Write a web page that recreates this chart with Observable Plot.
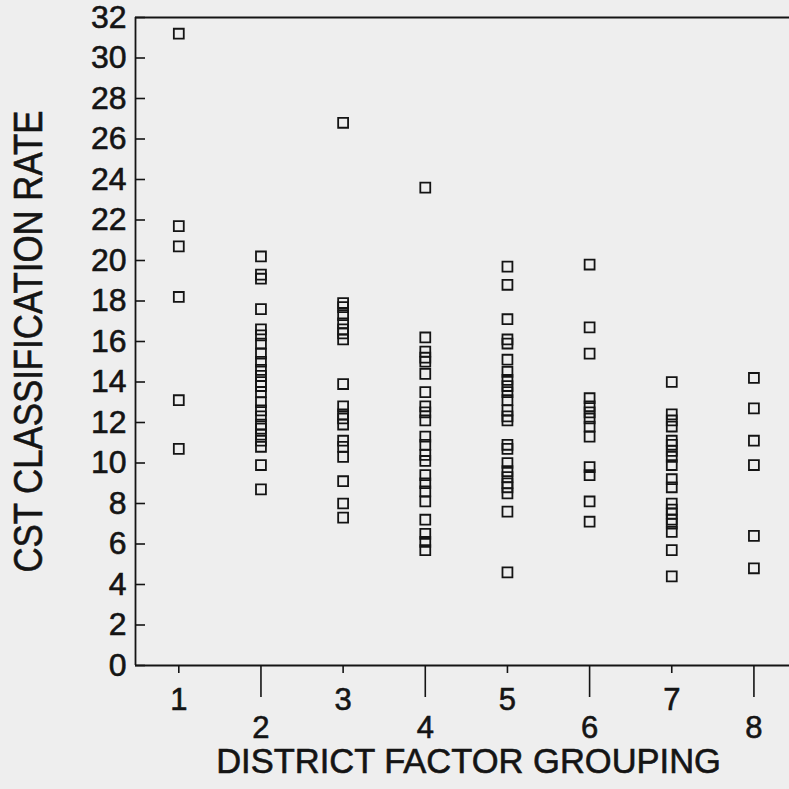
<!DOCTYPE html>
<html>
<head>
<meta charset="utf-8">
<script src="https://cdn.jsdelivr.net/npm/d3@7"></script>
<script src="https://cdn.jsdelivr.net/npm/@observablehq/plot@0.6"></script>
<style>
  html, body { margin: 0; padding: 0; background: #eeeeee; }
  #chart { width: 789px; height: 789px; overflow: hidden; }
  #chart svg text { stroke: #141414; stroke-width: 0.6px; paint-order: stroke; }
</style>
</head>
<body>
<div id="chart"></div>
<script>
// CST classification rate by District Factor Grouping
const group1 = [31.2, 21.7, 20.7, 18.2, 13.1, 10.7];
const group2 = [20.2, 19.3, 19.1, 17.6, 16.6, 16.3, 15.9, 15.4, 15.0, 14.6, 14.3, 14.0, 13.8, 13.5, 13.0, 12.6, 12.3, 11.9, 11.7, 11.4, 11.1, 10.8, 9.9, 8.7];
const group3 = [26.8, 17.9, 17.7, 17.3, 16.9, 16.6, 16.4, 16.1, 13.9, 12.8, 12.4, 12.2, 11.9, 11.1, 10.8, 10.3, 9.1, 8.0, 7.3];
const group4 = [23.6, 16.2, 15.5, 15.2, 15.0, 14.4, 13.5, 12.8, 12.5, 12.1, 11.3, 10.9, 10.4, 10.1, 9.4, 9.0, 8.6, 8.1, 7.2, 6.5, 6.1, 5.7];
const group5 = [19.7, 18.8, 17.1, 16.1, 15.9, 15.1, 14.5, 14.1, 13.8, 13.5, 13.1, 12.6, 12.3, 12.1, 10.9, 10.7, 10.0, 9.6, 9.3, 9.0, 8.8, 8.5, 7.6, 4.6];
const group6 = [19.8, 16.7, 15.4, 13.2, 12.8, 12.5, 12.2, 11.8, 11.3, 9.8, 9.4, 8.1, 7.1];
const group7 = [14.0, 12.4, 12.1, 11.8, 11.1, 10.9, 10.6, 10.3, 9.9, 9.2, 8.8, 8.0, 7.7, 7.5, 7.2, 7.0, 6.6, 5.7, 4.4];
const group8 = [14.2, 12.7, 11.1, 9.9, 6.4, 4.8];

const groupValues = [group1, group2, group3, group4, group5, group6, group7, group8];
const oddTicks = [1, 3, 5, 7];
const evenTicks = [2, 4, 6, 8];
const yTicks = [0, 2, 4, 6, 8, 10, 12, 14, 16, 18, 20, 22, 24, 26, 28, 30, 32];
const xTitle = "DISTRICT FACTOR GROUPING";
const yTitle = "CST CLASSIFICATION RATE";

const data = groupValues.flatMap((vals, i) => vals.map(v => ({group: i + 1, rate: v})));

const W = 789, H = 789, ML = 135, MR = 0, MT = 17, MB = 124;
const xDomain = [0.473, 8.433];
const yDomain = [0, 32];
const ink = "#141414";
// inward y-tick length of 10px, expressed in x units
const tickLen = 10 * (xDomain[1] - xDomain[0]) / (W - ML - MR);

const chart = Plot.plot({
  width: W,
  height: H,
  marginLeft: ML,
  marginRight: MR,
  marginTop: MT,
  marginBottom: MB,
  x: {domain: xDomain},
  y: {domain: yDomain},
  style: {background: "transparent", color: ink, fontFamily: "'Liberation Sans', Arial, sans-serif"},
  marks: [
    Plot.ruleY(yDomain, {stroke: ink, strokeWidth: 1.8}),
    Plot.ruleX([xDomain[0]], {stroke: ink, strokeWidth: 1.8}),
    Plot.ruleY(yTicks, {x1: xDomain[0], x2: xDomain[0] + tickLen, stroke: ink, strokeWidth: 1.6}),
    Plot.axisY(yTicks, {tickSize: 0, tickPadding: 9, fontSize: 32, label: null}),
    Plot.axisX(oddTicks, {tickSize: 8, tickPadding: 14, fontSize: 31, stroke: ink, strokeWidth: 1.6, label: null}),
    Plot.axisX(evenTicks, {tickSize: 32, tickPadding: 18, fontSize: 31, stroke: ink, strokeWidth: 1.6, label: null}),
    Plot.dot(data, {x: "group", y: "rate", symbol: "square", r: 5.6, stroke: ink, strokeWidth: 1.8, fill: "none"}),
    Plot.text([xTitle], {frameAnchor: "bottom", dy: 107, dx: 6, fontSize: 34.5, fill: ink}),
    Plot.text([yTitle], {frameAnchor: "left", textAnchor: "middle", rotate: -90, dx: -106, fontSize: 40, fill: ink, className: "ytitle"})
  ]
});
// the vertical title is set slightly condensed, as in the reference
chart.querySelectorAll(".ytitle text").forEach(t => { t.setAttribute("textLength", 462); t.setAttribute("lengthAdjust", "spacingAndGlyphs"); });
document.getElementById("chart").appendChild(chart);
</script>
</body>
</html>
